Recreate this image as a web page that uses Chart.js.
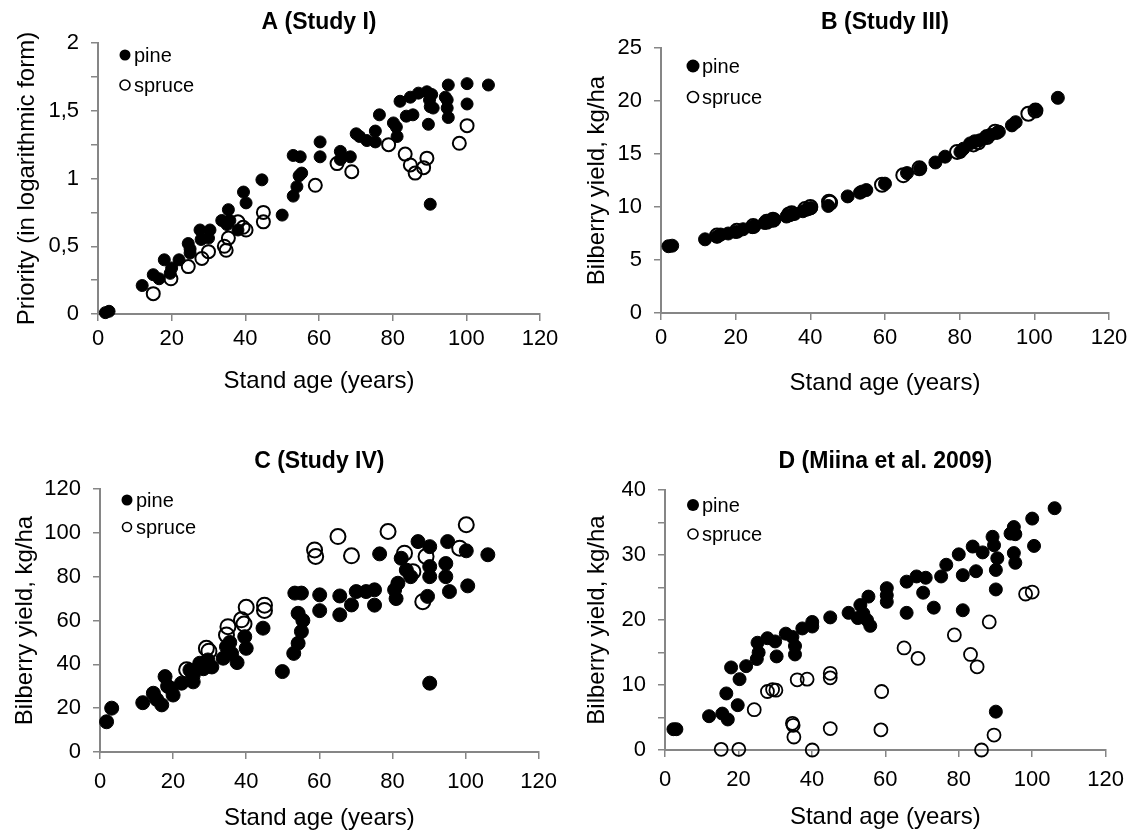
<!DOCTYPE html>
<html>
<head>
<meta charset="utf-8">
<script src="https://cdn.jsdelivr.net/npm/chart.js@4.4.1/dist/chart.umd.min.js"></script>
<style>
  body { margin: 0; background: #fff; }
  #wrap { position: relative; width: 1134px; height: 832px; }
  .panel { position: absolute; width: 567px; height: 416px; }
</style>
</head>
<body>
<div id="wrap">
  <div class="panel" style="left:0;top:0"><canvas id="chartA" width="567" height="416"></canvas></div>
  <div class="panel" style="left:567px;top:0"><canvas id="chartB" width="567" height="416"></canvas></div>
  <div class="panel" style="left:0;top:416px"><canvas id="chartC" width="567" height="416"></canvas></div>
  <div class="panel" style="left:567px;top:416px"><canvas id="chartD" width="567" height="416"></canvas></div>
</div>
<script>
// [stand age, value] pairs
const studyIPine = [[2,0.01],[3,0.02],[12,0.21],[15,0.29],[16.6,0.26],[18,0.40],[19.6,0.30],[20,0.34],[22,0.40],[24.5,0.52],[25,0.48],[25,0.45],[27.7,0.62],[30.4,0.62],[28,0.55],[30,0.56],[33.6,0.69],[35.4,0.77],[35.8,0.69],[35,0.66],[38,0.62],[39.5,0.90],[40.2,0.82],[44.5,0.99],[50,0.73],[53,0.87],[53,1.17],[54.9,1.16],[55.3,1.04],[54.6,1.02],[54,0.94],[60.3,1.27],[60.3,1.16],[65.8,1.20],[65.8,1.14],[68.5,1.16],[70.1,1.33],[71,1.31],[73,1.28],[75.3,1.35],[75.3,1.27],[76.4,1.47],[80.2,1.41],[81,1.38],[81.2,1.31],[82,1.57],[83.7,1.46],[85.5,1.47],[84.8,1.60],[87,1.63],[89.3,1.64],[90.6,1.62],[90,1.58],[90.2,1.53],[91,1.52],[89.7,1.40],[90.2,0.81],[95.1,1.69],[94.3,1.60],[94.8,1.58],[94.8,1.52],[95.1,1.45],[100.2,1.70],[100.2,1.55],[106,1.69]];
const studyISpruce = [[15,0.15],[19.8,0.26],[24.5,0.35],[28.2,0.41],[30,0.46],[34.3,0.50],[34.8,0.47],[35.4,0.56],[38,0.68],[39.4,0.64],[40.2,0.62],[44.9,0.75],[44.9,0.68],[59,0.95],[64.9,1.11],[68.9,1.05],[78.9,1.25],[83.4,1.18],[84.8,1.10],[86.1,1.04],[88.4,1.08],[89.3,1.15],[98.1,1.26],[100.2,1.39]];

const studyIIIPine = [[2,6.3],[3,6.35],[11.8,6.95],[15,7.2],[16,7.4],[18,7.5],[20,7.65],[22,7.9],[24.5,8.1],[25,8.2],[27.7,8.5],[28,8.55],[30,8.75],[30.4,8.8],[33.6,9.1],[35,9.3],[35.8,9.35],[38,9.6],[39.5,9.8],[40.2,9.9],[44.8,10.1],[50,11.0],[53.3,11.35],[53.8,11.45],[55,11.6],[60,12.2],[65.9,13.2],[69.4,13.65],[73.5,14.2],[76.1,14.75],[80.2,15.2],[81,15.5],[82.8,16.0],[84,16.2],[85.5,16.3],[87,16.6],[88.2,16.8],[90,17.0],[90.5,17.1],[94,17.7],[95,18.0],[100.3,19.15],[106.3,20.3]];
const studyIIISpruce = [[15,7.3],[20.3,7.75],[24.7,8.2],[28.3,8.6],[30,8.8],[34.3,9.3],[35,9.4],[38.6,9.8],[40,10.0],[45.3,10.4],[45,10.5],[59.2,12.1],[64.9,13.0],[69.2,13.65],[79.3,15.2],[83.7,15.9],[85,16.1],[87.3,16.6],[89.5,17.1],[98.4,18.8],[100.3,19.1]];

const studyIVPine = [[1.8,13.8],[3.2,20],[11.7,22.5],[14.6,26.8],[15.5,24],[16.9,21.5],[17.8,34.4],[18.5,30],[20,26],[19.4,29],[22.3,31.4],[24.6,37.4],[25.5,35],[25.5,32],[27.3,40.5],[28.3,38],[29.5,42],[30.6,38.8],[33.7,42.8],[34.6,48],[35.5,50],[36,45],[37.5,40.8],[39.6,52.6],[40,47.3],[44.6,56.5],[49.9,36.7],[53,45],[54.2,49.6],[55.1,55],[53.3,72.5],[55.1,72.5],[54.2,63.3],[55.5,60],[60.1,71.7],[60.1,64.5],[65.6,71.2],[65.6,62.6],[68.8,67.1],[70.1,73.2],[72.8,73.2],[75.1,74],[75.1,67],[76.5,90.4],[80.6,74],[81.5,77],[81,70],[82.4,88.4],[83.8,83],[85,80],[87,96],[90.2,93.7],[90.2,84.6],[90.2,80],[89.6,71],[90.2,31.4],[95.1,96],[94.6,86],[94.6,80],[95.6,73.2],[100.2,91.8],[100.6,75.8],[106.1,90]];
const studyIVSpruce = [[23.7,37.5],[29.1,47.3],[29.8,46],[34.6,53.4],[35,57.2],[38.7,60.3],[39.4,58.4],[40,66],[45,67],[45,64.6],[58.7,92.2],[59,89.2],[65.1,98.3],[68.8,89.5],[78.8,100.6],[83.3,90.7],[85.6,82.3],[88.3,68.6],[89.2,89.2],[98.4,93],[100.2,103.7]];

const miinaPine = [[2.3,3.2],[3.1,3.2],[12,5.2],[15.6,5.6],[17.1,4.7],[16.7,8.7],[18,12.7],[19.8,6.9],[20.3,10.9],[22.1,12.9],[25,14],[25.2,16.5],[25.5,15],[27.9,17.2],[30,16.7],[30.4,14.4],[32.9,17.9],[34.7,17.4],[35.4,16],[35.4,14.7],[37.4,18.7],[40.1,19.7],[40.1,19],[45,20.4],[50,21.1],[52.5,20.3],[53.2,22.3],[54,21],[55.4,23.6],[55.9,19.1],[55,20],[60.4,24.9],[60.4,22.8],[60.4,23.8],[65.8,25.9],[65.8,21.1],[68.5,26.7],[71,26.5],[70.3,24.2],[73.2,21.9],[75.2,26.7],[76.6,28.5],[80,30.1],[81.1,21.5],[81.1,26.9],[83.8,31.3],[84.7,27.5],[86.5,30.4],[89.2,32.8],[89.6,31.5],[90.5,29.5],[90.1,27.7],[90.1,24.7],[90.1,5.9],[94.1,33.3],[95,34.3],[95.4,33.2],[95,30.3],[95.4,28.8],[100,35.6],[100.5,31.4],[106.1,37.2]];
const miinaSpruce = [[15.3,0.1],[20.1,0.1],[24.3,6.2],[27.9,9],[29.3,9.3],[30.2,9.2],[34.7,4.1],[34.9,3.8],[35.1,2.0],[36,10.8],[38.7,10.9],[40.1,0],[45,11.8],[45,11.1],[45,3.3],[59,9],[58.8,3.1],[65.1,15.7],[68.9,14.1],[78.8,17.7],[83.2,14.7],[85,12.8],[88.3,19.7],[86.2,0],[89.6,2.3],[98.2,24],[100,24.3]];

const seriesNames = ['pine', 'spruce'];
const panelTitles = ['A (Study I)', 'B (Study III)', 'C (Study IV)', 'D (Miina et al. 2009)'];
const yAxisTitles = ['Priority (in logarithmic form)', 'Bilberry yield, kg/ha', 'Bilberry yield, kg/ha', 'Bilberry yield, kg/ha'];
const xAxisTitle = 'Stand age (years)';
const yMaxes = [2, 25, 120, 40];
const ySteps = [0.25, 5, 20, 5];
const yLabelSteps = [0.5, 5, 20, 10];

const FONT = "'Liberation Sans', Arial, sans-serif";
const AXIS = '#868686';
const W = 567, H = 416;

const insideLegend = {
  id: 'insideLegend',
  afterDatasetsDraw(chart, args, o) {
    const ctx = chart.ctx;
    ctx.save();
    ctx.font = '20px ' + FONT;
    ctx.textBaseline = 'middle';
    ctx.fillStyle = '#000';
    chart.data.datasets.forEach((ds, i) => {
      const y = o.y + i * o.gap;
      ctx.beginPath();
      ctx.arc(o.x, y, o.r[i], 0, Math.PI * 2);
      if (i === 0) { ctx.fillStyle = '#000'; ctx.fill(); }
      else { ctx.lineWidth = 1.6; ctx.strokeStyle = '#000'; ctx.stroke(); }
      ctx.fillStyle = '#000';
      ctx.fillText(ds.label, o.x + 9, y + 1);
    });
    ctx.restore();
  }
};

function makePanel(id, idx, pine, spruce, p) {
  const tSize = 23, axSize = 24;
  const tTop = p.titleY - tSize * 0.6;
  const tBottom = p.t - tTop - tSize * 1.2;
  new Chart(document.getElementById(id), {
    type: 'scatter',
    data: {
      datasets: [
        { label: seriesNames[0], data: pine.map(d => ({x: d[0], y: d[1]})),
          pointRadius: p.rp, pointBackgroundColor: '#000', pointBorderColor: '#000', pointBorderWidth: 1, clip: false },
        { label: seriesNames[1], data: spruce.map(d => ({x: d[0], y: d[1]})),
          pointRadius: p.rs, pointBackgroundColor: 'rgba(0,0,0,0)', pointBorderColor: '#000', pointBorderWidth: p.bw, clip: false }
      ]
    },
    options: {
      responsive: false,
      animation: false,
      layout: { padding: { left: 0, top: 0, bottom: 0, right: W - p.r } },
      plugins: {
        legend: { display: false },
        tooltip: { enabled: false },
        title: {
          display: true, text: panelTitles[idx], fullSize: false, color: '#000',
          font: { family: FONT, size: tSize, weight: 'bold' },
          padding: { top: tTop, bottom: tBottom }
        },
        insideLegend: p.legend
      },
      scales: {
        x: {
          type: 'linear', min: 0, max: 120,
          afterFit: s => { s.height = H - p.b; },
          ticks: { stepSize: 20, color: '#000', padding: p.xPad, font: { family: FONT, size: 22 }, maxRotation: 0 },
          grid: { drawOnChartArea: false, drawTicks: true, tickLength: 7, color: AXIS, lineWidth: 1.5 },
          border: { color: AXIS, width: 2 },
          title: { display: true, text: xAxisTitle, color: '#000', font: { family: FONT, size: axSize },
                   padding: { top: 0, bottom: H - p.xTitleY - axSize * 0.6 } }
        },
        y: {
          type: 'linear', min: 0, max: yMaxes[idx],
          afterFit: s => { s.width = p.l; },
          ticks: {
            stepSize: ySteps[idx], autoSkip: false, color: '#000', padding: 12,
            font: { family: FONT, size: 22 },
            callback: v => {
              const k = v / yLabelSteps[idx];
              return Math.abs(k - Math.round(k)) < 1e-6 ? String(v).replace('.', ',') : '';
            }
          },
          grid: { drawOnChartArea: false, drawTicks: true, tickLength: 7, color: AXIS, lineWidth: 1.5 },
          border: { color: AXIS, width: 2 },
          title: { display: true, text: yAxisTitles[idx], color: '#000', font: { family: FONT, size: axSize },
                   padding: { top: p.yTitleX - axSize * 0.6, bottom: 0 } }
        }
      }
    },
    plugins: [insideLegend]
  });
}

makePanel('chartA', 0, studyIPine, studyISpruce, {
  l: 98, r: 540, t: 43, b: 314, titleY: 23, xTitleY: 381, yTitleX: 27, xPad: 5,
  rp: 6, rs: 6.5, bw: 2,
  legend: { x: 125, y: 55, gap: 30, r: [5.5, 5] }
});
makePanel('chartB', 1, studyIIIPine, studyIIISpruce, {
  l: 94, r: 542, t: 48, b: 313, titleY: 23, xTitleY: 383, yTitleX: 30, xPad: 5,
  rp: 6.5, rs: 7, bw: 2,
  legend: { x: 126, y: 66, gap: 31, r: [6.5, 5.5] }
});
makePanel('chartC', 2, studyIVPine, studyIVSpruce, {
  l: 100, r: 539, t: 73, b: 336, titleY: 46, xTitleY: 402, yTitleX: 25, xPad: 10,
  rp: 7, rs: 7.5, bw: 2,
  legend: { x: 127, y: 84, gap: 27, r: [5.5, 4.5] }
});
makePanel('chartD', 3, miinaPine, miinaSpruce, {
  l: 98, r: 542, t: 74, b: 334, titleY: 46, xTitleY: 401, yTitleX: 30, xPad: 10,
  rp: 6.5, rs: 6.5, bw: 1.8,
  legend: { x: 126, y: 89, gap: 29, r: [6, 5] }
});
</script>
</body>
</html>
